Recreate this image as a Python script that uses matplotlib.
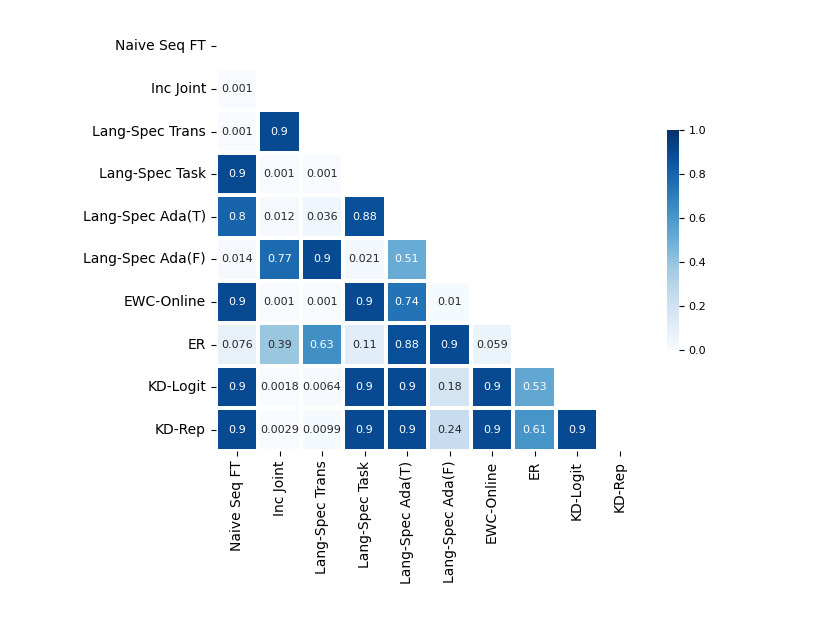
import numpy as np
import matplotlib
matplotlib.use("Agg")
import matplotlib.pyplot as plt
import seaborn as sns

labels = ["Naive Seq FT", "Inc Joint", "Lang-Spec Trans", "Lang-Spec Task",
          "Lang-Spec Ada(T)", "Lang-Spec Ada(F)", "EWC-Online", "ER",
          "KD-Logit", "KD-Rep"]

row_inc_joint = [0.001]
row_trans = [0.001, 0.9]
row_task = [0.9, 0.001, 0.001]
row_ada_t = [0.8, 0.012, 0.036, 0.88]
row_ada_f = [0.014, 0.77, 0.9, 0.021, 0.51]
row_ewc = [0.9, 0.001, 0.001, 0.9, 0.74, 0.01]
row_er = [0.076, 0.39, 0.63, 0.11, 0.88, 0.9, 0.059]
row_kd_logit = [0.9, 0.0018, 0.0064, 0.9, 0.9, 0.18, 0.9, 0.53]
row_kd_rep = [0.9, 0.0029, 0.0099, 0.9, 0.9, 0.24, 0.9, 0.61, 0.9]

rows = [[], row_inc_joint, row_trans, row_task, row_ada_t, row_ada_f,
        row_ewc, row_er, row_kd_logit, row_kd_rep]

n = len(labels)
mat = np.zeros((n, n))
for i, r in enumerate(rows):
    for j, v in enumerate(r):
        mat[i, j] = v
mask = np.triu(np.ones((n, n), dtype=bool))

fig = plt.figure(figsize=(8.3, 6.42), dpi=100)
ax = fig.add_axes([0.260, 0.2975, 0.512, 0.6635])
cax = fig.add_axes([0.8036, 0.4548, 0.0145, 0.3427])

sns.heatmap(mat, mask=mask, cmap="Blues", vmin=0, vmax=1, annot=True,
            fmt=".2g", annot_kws={"size": 8}, linewidths=1.5,
            linecolor="white", square=False, ax=ax, cbar_ax=cax,
            xticklabels=labels, yticklabels=labels)
ax.tick_params(axis="both", labelsize=10)
ax.set_xticklabels(labels, rotation=90)
ax.set_yticklabels(labels, rotation=0)
cax.tick_params(labelsize=8)
cax.set_yticks([0.0, 0.2, 0.4, 0.6, 0.8, 1.0])

fig.savefig("out.png", dpi=100)
